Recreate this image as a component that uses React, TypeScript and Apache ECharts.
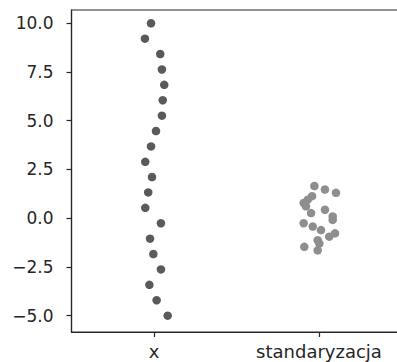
import React, { useEffect, useRef } from "react";
import * as echarts from "echarts";

const categories = ["x", "standaryzacja"];
const yTicks = [-5, -2.5, 0, 2.5, 5, 7.5, 10];

const xValues = [10, 9.21, 8.42, 7.63, 6.84, 6.05, 5.26, 4.47, 3.68, 2.89, 2.11, 1.32, 0.53, -0.26, -1.05, -1.84, -2.63, -3.42, -4.21, -5];
const xJitter = [-0.018, -0.055, 0.038, 0.048, 0.062, 0.053, 0.048, 0.012, -0.018, -0.053, -0.012, -0.035, -0.053, 0.042, -0.024, -0.004, 0.042, -0.028, 0.016, 0.083];

const stdValues = [1.65, 1.47, 1.3, 1.13, 0.95, 0.78, 0.61, 0.43, 0.26, 0.09, -0.09, -0.26, -0.43, -0.61, -0.78, -0.95, -1.13, -1.3, -1.47, -1.65];
const stdJitter = [-0.028, 0.036, 0.103, -0.042, -0.068, -0.093, -0.079, 0.036, -0.048, 0.083, 0.083, -0.093, -0.038, 0.012, 0.097, 0.062, -0.008, 0.002, -0.089, -0.008];

const seriesColors = ["#5a5a5a", "#8e8e8e"];

export default function App() {
  const ref = useRef<HTMLDivElement>(null);
  useEffect(() => {
    if (!ref.current) return;
    const chart = echarts.init(ref.current, null, { renderer: "svg" });
    const font = "DejaVu Sans";
    const axisColor = "#262626";
    chart.setOption({
      animation: false,
      grid: {
        left: 71.5,
        top: 10,
        width: 330,
        height: 322,
        outerBoundsMode: "none",
        containLabel: false,
        show: true,
        borderColor: axisColor,
        borderWidth: 1.2,
        backgroundColor: "transparent",
      },
      xAxis: [
        {
          type: "category",
          data: categories,
          boundaryGap: true,
          axisLine: { show: true, onZero: false, lineStyle: { color: axisColor, width: 1.2 } },
          axisTick: { show: true, alignWithLabel: true, length: 5, lineStyle: { color: axisColor, width: 1.2 } },
          axisLabel: { color: axisColor, fontFamily: font, fontSize: 18, margin: 10 },
          splitLine: { show: false },
        },
        {
          type: "value",
          min: -0.5,
          max: 1.5,
          show: false,
          axisLine: { show: false, onZero: false },
          splitLine: { show: false },
        },
      ],
      yAxis: {
        type: "value",
        min: -5.84,
        max: 10.68,
        axisLine: { show: true, onZero: false, lineStyle: { color: axisColor, width: 1.2 } },
        axisTick: { show: true, length: 5, customValues: yTicks, lineStyle: { color: axisColor, width: 1.2 } },
        axisLabel: {
          color: axisColor,
          fontFamily: font,
          fontSize: 17,
          margin: 18,
          customValues: yTicks,
          formatter: (v: number) => (v < 0 ? "\u2212" + Math.abs(v).toFixed(1) : v.toFixed(1)),
        },
        splitLine: { show: false },
      },
      series: [
        {
          type: "scatter",
          xAxisIndex: 1,
          yAxisIndex: 0,
          symbolSize: 8.5,
          itemStyle: { color: seriesColors[0], opacity: 1 },
          data: xValues.map((v, i) => [0 + xJitter[i], v]),
        },
        {
          type: "scatter",
          xAxisIndex: 1,
          yAxisIndex: 0,
          symbolSize: 8.5,
          itemStyle: { color: seriesColors[1], opacity: 1 },
          data: stdValues.map((v, i) => [1 + stdJitter[i], v]),
        },
      ],
    });
    return () => chart.dispose();
  }, []);
  return (
    <div
      ref={ref}
      style={{ position: "absolute", left: 0, top: 0, width: 397, height: 362 }}
    />
  );
}
